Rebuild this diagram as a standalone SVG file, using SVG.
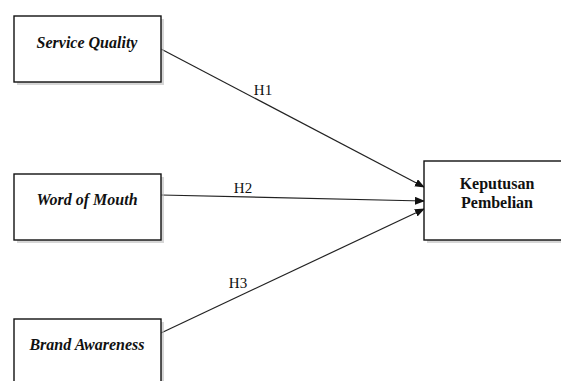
<svg xmlns="http://www.w3.org/2000/svg" width="561" height="381" viewBox="0 0 561 381">
<style>
.box{fill:#fff;stroke:#111;stroke-width:1.4}
.shadow{fill:#bbb;opacity:0.6}
.lbl{font-family:"Liberation Serif","Times New Roman",serif;font-size:16px;font-weight:bold;font-style:italic;fill:#111;text-anchor:middle}
.lbl2{font-family:"Liberation Serif","Times New Roman",serif;font-size:16px;font-weight:bold;fill:#111;text-anchor:middle}
.h{font-family:"Liberation Serif","Times New Roman",serif;font-size:15px;fill:#111;text-anchor:middle}
.edge{stroke:#222;stroke-width:1.2;fill:none;marker-end:url(#arr)}
</style>
<defs>
<marker id="arr" markerWidth="10" markerHeight="8" refX="9" refY="4" orient="auto" markerUnits="userSpaceOnUse">
<path d="M0,0 L10,4 L0,8 Z" fill="#111"/>
</marker>
</defs>
<rect width="561" height="381" fill="#fff"/>
<g id="connectors">
<line class="edge" x1="161" y1="49" x2="424" y2="187"/>
<line class="edge" x1="161" y1="195" x2="424" y2="201"/>
<line class="edge" x1="161" y1="333" x2="424" y2="209"/>
<text class="h" x="263" y="95">H1</text>
<text class="h" x="243" y="193">H2</text>
<text class="h" x="238" y="288">H3</text>
</g>
<g id="service-quality">
<rect class="shadow" x="17" y="19" width="147" height="66"/>
<rect class="box" x="14" y="16" width="147" height="66"/>
<text class="lbl" x="87" y="48">Service Quality</text>
</g>
<g id="word-of-mouth">
<rect class="shadow" x="17" y="177" width="147" height="66"/>
<rect class="box" x="14" y="174" width="147" height="66"/>
<text class="lbl" x="87" y="205">Word of Mouth</text>
</g>
<g id="brand-awareness">
<rect class="shadow" x="17" y="322" width="147" height="66"/>
<rect class="box" x="14" y="319" width="147" height="66"/>
<text class="lbl" x="87" y="350">Brand Awareness</text>
</g>
<g id="keputusan-pembelian">
<rect class="shadow" x="427" y="164" width="140" height="79"/>
<rect class="box" x="424" y="161" width="140" height="79"/>
<text class="lbl2" x="497" y="189">Keputusan</text>
<text class="lbl2" x="497" y="208">Pembelian</text>
</g>
</svg>
